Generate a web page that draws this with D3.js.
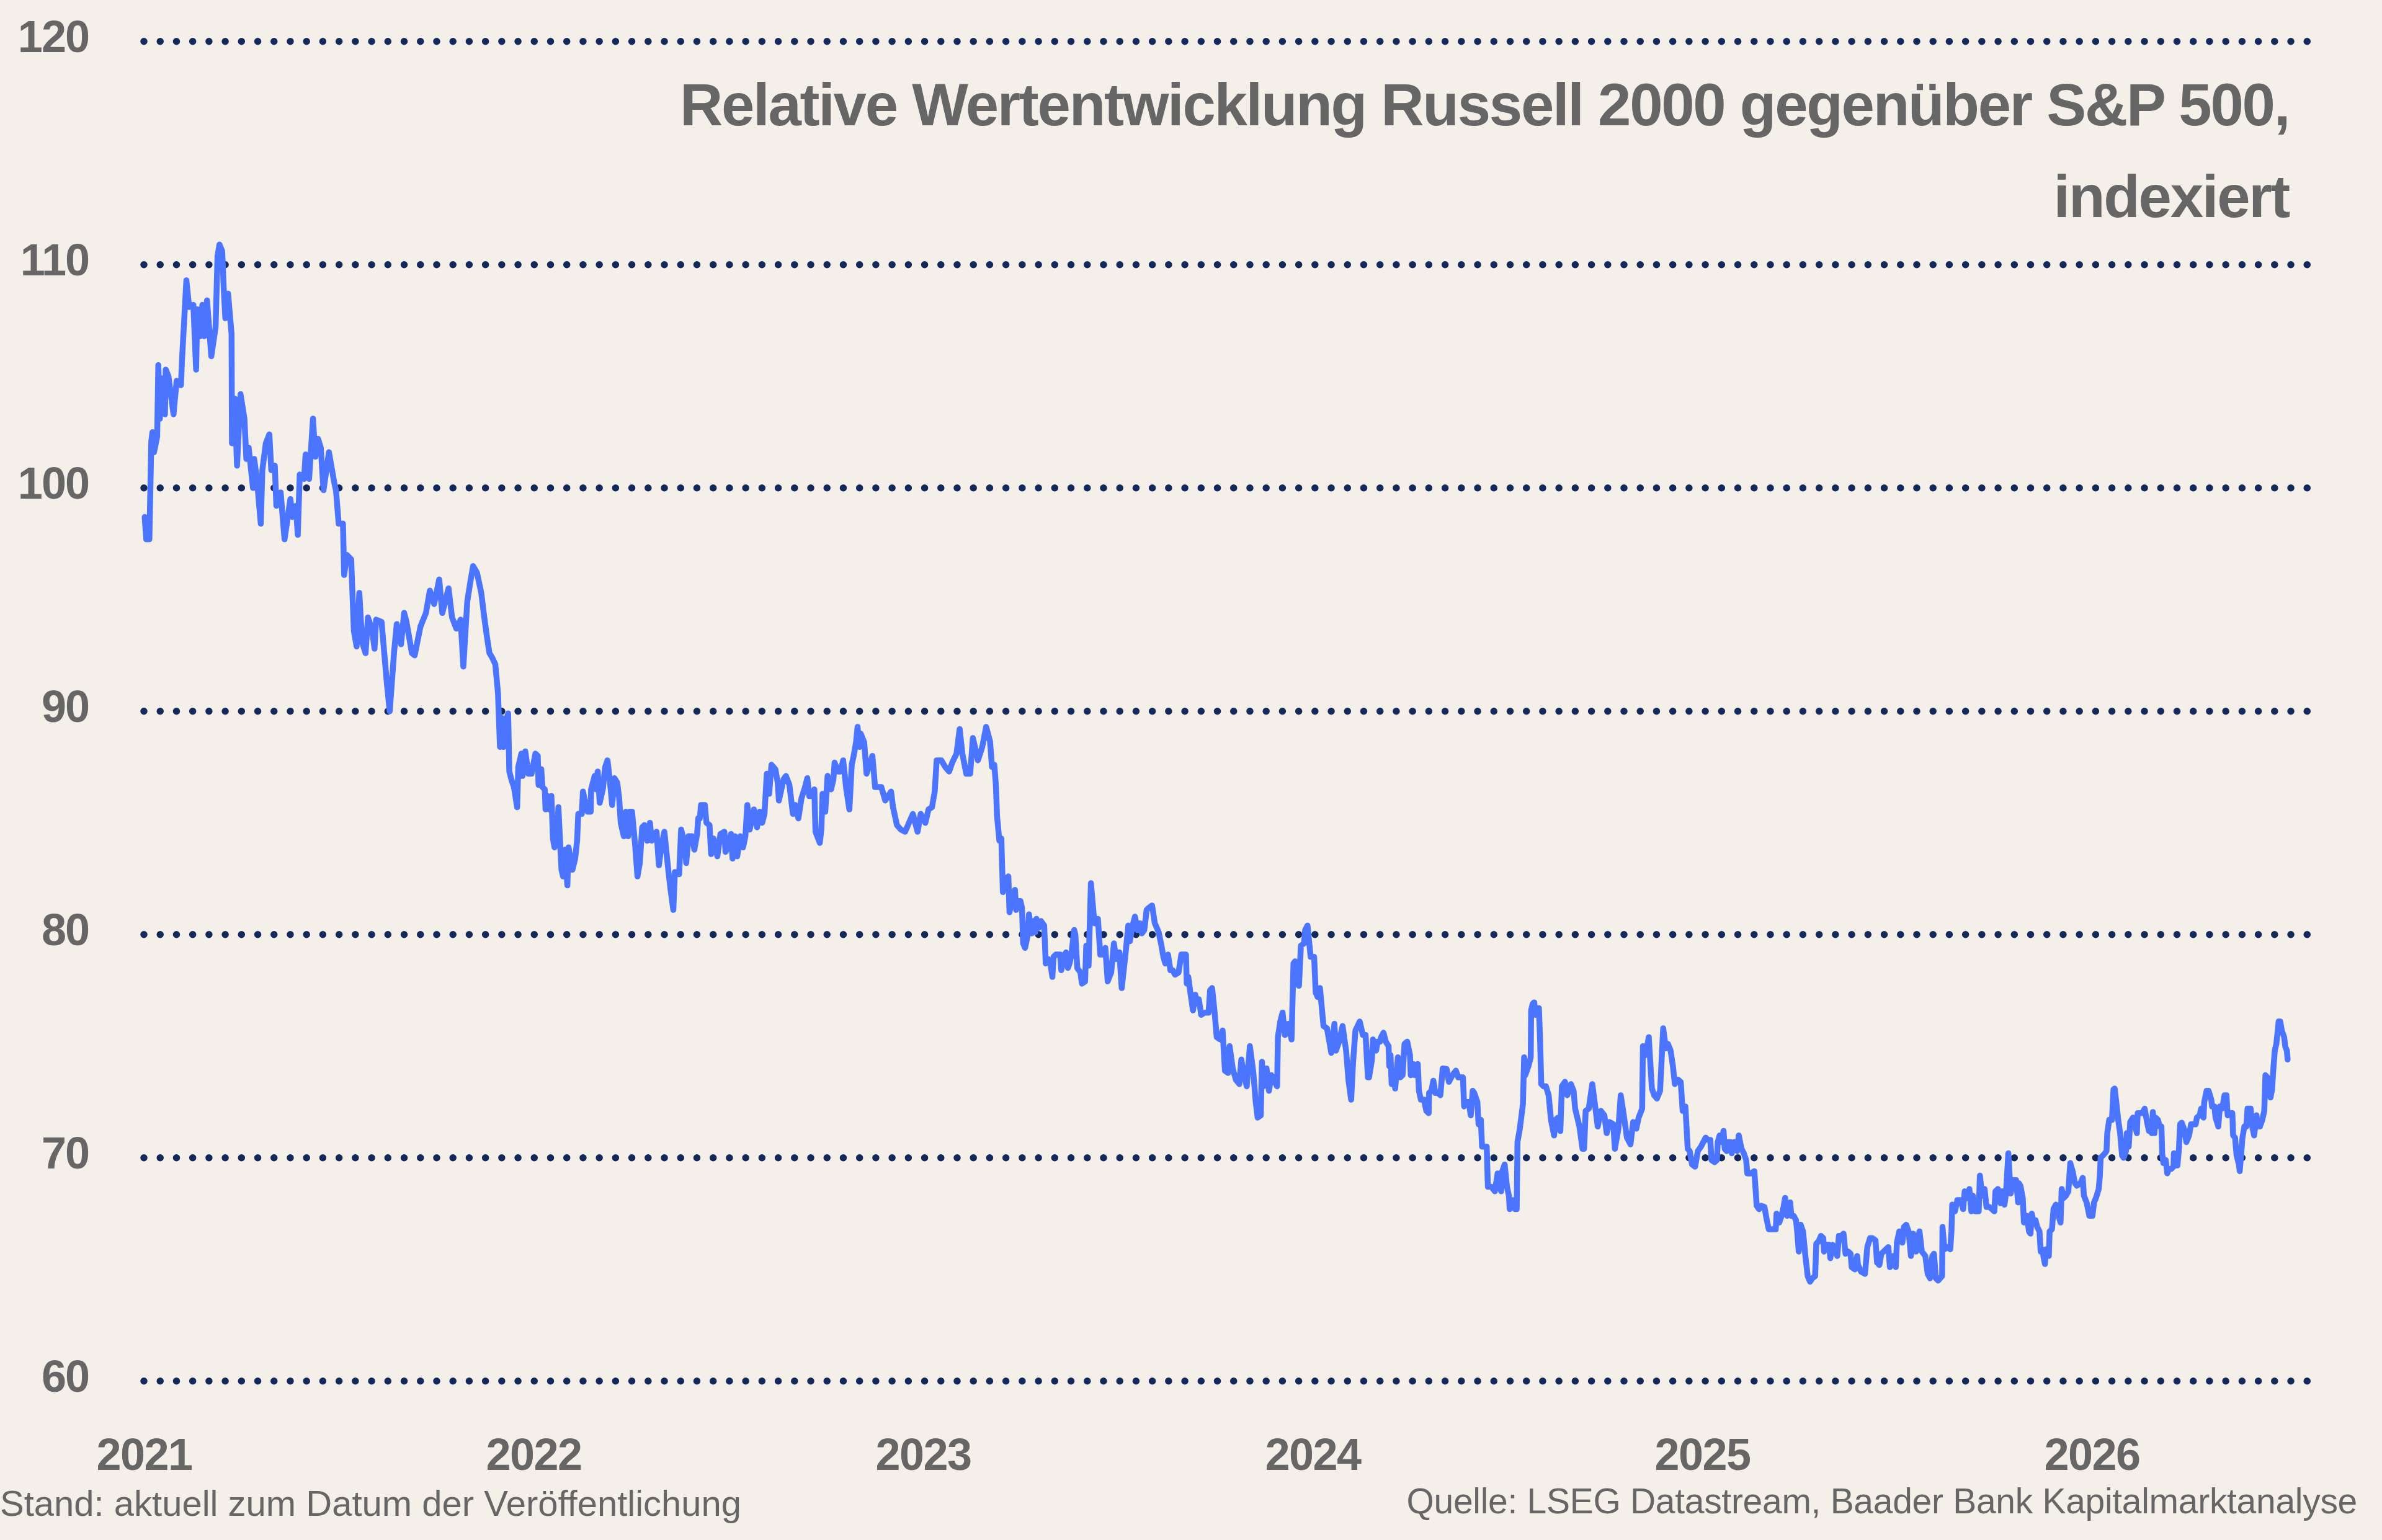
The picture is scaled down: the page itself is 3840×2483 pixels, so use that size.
<!DOCTYPE html>
<html>
<head>
<meta charset="utf-8">
<script src="https://cdn.jsdelivr.net/npm/d3@7"></script>
<style>
  html, body { margin: 0; padding: 0; background: #f5efe9; }
  svg { display: block; }
</style>
</head>
<body>
<svg id="chart"></svg>
<script>
var width = 3840
var height = 2483
var plotLeft = 232
var plotRight = 3719
var plotTop = 66.7
var plotBottom = 2226.7

// Russell 2000 relativ zum S&P 500, [Jahr als Dezimalzahl, Indexwert]
var series2021 = [[2021.002, 98.7], [2021.006, 97.7], [2021.014, 97.7], [2021.019, 102.1], [2021.022, 102.5], [2021.026, 101.6], [2021.034, 102.3], [2021.037, 105.5], [2021.041, 103.1], [2021.046, 104.9], [2021.054, 103.3], [2021.056, 105.3], [2021.063, 105.0], [2021.066, 104.6], [2021.076, 103.3], [2021.084, 104.8], [2021.095, 104.6], [2021.098, 105.8], [2021.109, 109.3], [2021.116, 108.1], [2021.127, 108.2], [2021.134, 105.3], [2021.137, 108.0], [2021.145, 106.8], [2021.150, 108.2], [2021.155, 106.8], [2021.162, 108.4], [2021.173, 105.9], [2021.184, 107.2], [2021.189, 110.4], [2021.194, 110.9], [2021.201, 110.6], [2021.205, 108.9], [2021.209, 107.6], [2021.216, 108.7], [2021.225, 106.9], [2021.226, 102.0], [2021.233, 104.0], [2021.239, 101.0], [2021.248, 104.2], [2021.258, 103.1], [2021.263, 101.3], [2021.269, 101.8], [2021.280, 100.0], [2021.283, 101.3], [2021.290, 100.4], [2021.300, 98.4], [2021.304, 100.8], [2021.313, 102.0], [2021.322, 102.4], [2021.327, 100.8], [2021.336, 101.0], [2021.340, 99.2], [2021.351, 99.8], [2021.361, 97.7], [2021.376, 99.5], [2021.381, 98.7], [2021.390, 99.2], [2021.395, 97.9], [2021.400, 100.6], [2021.411, 100.4], [2021.415, 101.5], [2021.424, 100.4], [2021.434, 103.1], [2021.440, 101.4], [2021.447, 102.2], [2021.454, 101.8], [2021.461, 99.9], [2021.475, 101.6], [2021.489, 100.2], [2021.493, 99.9], [2021.500, 98.4], [2021.511, 98.4], [2021.514, 96.1], [2021.521, 97.0], [2021.532, 96.8], [2021.539, 93.6], [2021.546, 92.9], [2021.553, 95.3], [2021.560, 93.1], [2021.569, 92.6], [2021.575, 94.2], [2021.585, 93.7], [2021.592, 92.8], [2021.596, 94.1], [2021.610, 94.0], [2021.624, 91.2], [2021.631, 90.0], [2021.642, 92.6], [2021.649, 93.9], [2021.660, 93.0], [2021.668, 94.4], [2021.674, 94.0], [2021.688, 92.6], [2021.695, 92.5], [2021.710, 93.8], [2021.724, 94.4], [2021.734, 95.4], [2021.745, 94.8], [2021.758, 95.9], [2021.766, 94.4], [2021.782, 95.5], [2021.791, 94.2], [2021.802, 93.7], [2021.813, 94.1], [2021.820, 92.0], [2021.830, 94.9], [2021.838, 95.8], [2021.845, 96.5], [2021.855, 96.2], [2021.866, 95.3], [2021.873, 94.3], [2021.880, 93.4], [2021.887, 92.6], [2021.894, 92.4], [2021.902, 92.1], [2021.909, 90.8], [2021.914, 88.4], [2021.918, 89.7], [2021.923, 88.4], [2021.928, 89.5], [2021.935, 89.9], [2021.938, 87.3], [2021.944, 86.9], [2021.950, 86.6], [2021.958, 85.7], [2021.961, 87.5], [2021.969, 88.1], [2021.972, 87.1], [2021.979, 88.2], [2021.987, 87.2], [2021.995, 87.2]]

var series2022 = [[2022.005, 88.1], [2022.011, 88.0], [2022.013, 86.7], [2022.020, 87.4], [2022.023, 86.6], [2022.029, 86.5], [2022.031, 85.6], [2022.036, 86.2], [2022.040, 85.6], [2022.046, 86.2], [2022.050, 84.3], [2022.054, 83.9], [2022.060, 84.1], [2022.064, 85.7], [2022.069, 83.9], [2022.072, 82.9], [2022.076, 82.6], [2022.081, 83.8], [2022.087, 82.2], [2022.090, 83.9], [2022.100, 82.9], [2022.107, 83.4], [2022.112, 84.2], [2022.115, 85.4], [2022.124, 85.4], [2022.127, 86.4], [2022.139, 85.5], [2022.147, 85.5], [2022.148, 86.5], [2022.157, 87.1], [2022.160, 86.5], [2022.165, 87.3], [2022.170, 85.9], [2022.178, 86.5], [2022.184, 87.5], [2022.190, 87.8], [2022.196, 86.9], [2022.202, 85.8], [2022.208, 87.0], [2022.215, 86.8], [2022.220, 86.1], [2022.224, 85.0], [2022.232, 84.4], [2022.237, 85.5], [2022.243, 84.4], [2022.247, 85.5], [2022.253, 85.5], [2022.261, 84.0], [2022.267, 82.6], [2022.273, 83.2], [2022.279, 84.8], [2022.285, 84.9], [2022.292, 84.2], [2022.299, 85.0], [2022.304, 84.2], [2022.310, 84.5], [2022.316, 84.6], [2022.322, 83.1], [2022.328, 83.9], [2022.336, 84.6], [2022.346, 82.9], [2022.352, 82.0], [2022.359, 81.1], [2022.363, 82.8], [2022.374, 82.7], [2022.379, 84.7], [2022.389, 84.0], [2022.392, 83.2], [2022.398, 84.4], [2022.407, 84.4], [2022.413, 83.8], [2022.420, 84.5], [2022.423, 85.2], [2022.427, 85.2], [2022.430, 85.8], [2022.440, 85.8], [2022.444, 85.0], [2022.452, 84.9], [2022.456, 83.6], [2022.462, 84.3], [2022.472, 83.5], [2022.480, 84.5], [2022.490, 84.6], [2022.493, 83.7], [2022.499, 83.9], [2022.507, 84.5], [2022.511, 83.4], [2022.517, 84.4], [2022.523, 83.5], [2022.531, 84.4], [2022.538, 83.9], [2022.544, 84.4], [2022.549, 85.8], [2022.555, 84.7], [2022.566, 85.6], [2022.574, 84.8], [2022.581, 85.5], [2022.587, 85.0], [2022.593, 85.4], [2022.599, 87.2], [2022.605, 86.3], [2022.611, 87.6], [2022.621, 87.4], [2022.627, 86.8], [2022.630, 86.0], [2022.642, 86.95], [2022.648, 87.1], [2022.657, 86.7], [2022.666, 85.4], [2022.672, 85.8], [2022.680, 85.2], [2022.688, 86.1], [2022.697, 86.6], [2022.703, 87.0], [2022.708, 86.2], [2022.715, 86.2], [2022.721, 86.5], [2022.724, 84.6], [2022.735, 84.1], [2022.739, 84.7], [2022.742, 86.3], [2022.749, 85.5], [2022.755, 87.1], [2022.764, 86.5], [2022.770, 86.95], [2022.773, 87.7], [2022.782, 87.3], [2022.788, 87.3], [2022.795, 87.8], [2022.803, 86.5], [2022.811, 85.6], [2022.817, 87.6], [2022.822, 88.0], [2022.828, 88.6], [2022.832, 89.3], [2022.837, 88.4], [2022.840, 89.0], [2022.849, 88.6], [2022.855, 87.2], [2022.870, 88.0], [2022.877, 86.6], [2022.893, 86.6], [2022.903, 86.0], [2022.918, 86.4], [2022.923, 85.7], [2022.933, 84.9], [2022.943, 84.7], [2022.954, 84.6], [2022.964, 85.0], [2022.974, 85.4], [2022.986, 84.6], [2022.994, 85.4]]

var series2023 = [[2023.006, 85.0], [2023.014, 85.6], [2023.023, 85.7], [2023.030, 86.4], [2023.035, 87.8], [2023.047, 87.8], [2023.057, 87.5], [2023.067, 87.3], [2023.075, 87.7], [2023.086, 88.1], [2023.094, 89.2], [2023.101, 88.1], [2023.111, 87.2], [2023.121, 87.2], [2023.128, 88.8], [2023.141, 87.8], [2023.152, 88.4], [2023.162, 89.3], [2023.172, 88.65], [2023.177, 87.5], [2023.183, 87.6], [2023.187, 86.7], [2023.190, 85.3], [2023.196, 84.2], [2023.201, 84.3], [2023.205, 81.9], [2023.213, 82.5], [2023.219, 82.6], [2023.222, 81.0], [2023.230, 81.7], [2023.236, 82.0], [2023.239, 81.1], [2023.245, 81.5], [2023.250, 81.5], [2023.254, 81.2], [2023.257, 79.6], [2023.262, 79.4], [2023.268, 79.9], [2023.272, 80.9], [2023.279, 80.05], [2023.283, 80.6], [2023.288, 80.1], [2023.291, 80.7], [2023.297, 80.3], [2023.303, 80.6], [2023.311, 80.4], [2023.315, 78.7], [2023.321, 78.9], [2023.327, 78.7], [2023.332, 78.1], [2023.335, 79.0], [2023.341, 79.1], [2023.352, 79.1], [2023.355, 78.4], [2023.361, 79.0], [2023.367, 79.2], [2023.372, 78.5], [2023.376, 78.7], [2023.380, 79.0], [2023.388, 80.2], [2023.391, 80.0], [2023.396, 78.5], [2023.404, 78.3], [2023.408, 77.8], [2023.416, 77.9], [2023.419, 79.5], [2023.425, 78.6], [2023.431, 82.3], [2023.440, 80.5], [2023.449, 80.7], [2023.455, 79.1], [2023.463, 79.1], [2023.468, 79.4], [2023.474, 77.9], [2023.483, 78.3], [2023.490, 79.6], [2023.496, 78.9], [2023.504, 79.2], [2023.510, 77.6], [2023.519, 79.0], [2023.527, 80.4], [2023.531, 79.7], [2023.538, 80.4], [2023.544, 80.8], [2023.550, 80.2], [2023.557, 80.5], [2023.562, 80.05], [2023.568, 80.2], [2023.574, 81.1], [2023.580, 81.2], [2023.588, 81.3], [2023.595, 80.5], [2023.605, 80.1], [2023.612, 79.5], [2023.617, 79.0], [2023.622, 78.7], [2023.629, 79.1], [2023.635, 78.4], [2023.641, 78.4], [2023.647, 78.2], [2023.656, 78.3], [2023.663, 79.1], [2023.669, 79.1], [2023.675, 79.1], [2023.677, 77.8], [2023.681, 78.1], [2023.687, 77.3], [2023.693, 76.6], [2023.699, 77.3], [2023.703, 76.9], [2023.708, 77.1], [2023.714, 76.4], [2023.723, 76.5], [2023.733, 76.5], [2023.737, 77.5], [2023.742, 77.6], [2023.748, 76.6], [2023.754, 75.4], [2023.763, 75.3], [2023.769, 75.7], [2023.775, 73.9], [2023.783, 73.8], [2023.787, 75.0], [2023.795, 74.0], [2023.803, 73.5], [2023.812, 73.3], [2023.817, 74.4], [2023.823, 73.8], [2023.831, 73.2], [2023.839, 75.0], [2023.848, 73.8], [2023.854, 72.5], [2023.859, 71.8], [2023.867, 71.9], [2023.870, 74.3], [2023.874, 73.2], [2023.882, 74.0], [2023.888, 73.0], [2023.894, 73.7], [2023.900, 73.5], [2023.909, 73.2], [2023.911, 75.4], [2023.917, 76.1], [2023.923, 76.5], [2023.929, 75.5], [2023.937, 76.0], [2023.946, 75.3], [2023.951, 78.7], [2023.955, 78.8], [2023.959, 77.8], [2023.965, 77.7], [2023.970, 79.5], [2023.978, 79.6], [2023.981, 80.2], [2023.987, 80.4], [2023.995, 79.0]]

var series2024 = [[2024.004, 79.0], [2024.008, 77.4], [2024.013, 77.2], [2024.019, 77.6], [2024.028, 75.9], [2024.037, 75.8], [2024.043, 75.2], [2024.048, 74.7], [2024.056, 76.0], [2024.060, 74.8], [2024.068, 75.2], [2024.077, 75.9], [2024.086, 74.8], [2024.092, 73.5], [2024.099, 72.6], [2024.104, 74.3], [2024.110, 75.7], [2024.121, 76.1], [2024.129, 75.5], [2024.136, 75.5], [2024.142, 73.6], [2024.145, 73.6], [2024.152, 74.35], [2024.155, 75.3], [2024.163, 74.8], [2024.167, 75.2], [2024.173, 75.2], [2024.176, 75.4], [2024.182, 75.6], [2024.188, 75.2], [2024.195, 75.0], [2024.197, 74.1], [2024.200, 74.6], [2024.203, 73.3], [2024.209, 73.8], [2024.212, 73.1], [2024.219, 74.5], [2024.225, 73.6], [2024.231, 73.7], [2024.236, 75.1], [2024.243, 75.2], [2024.250, 74.6], [2024.252, 73.7], [2024.258, 74.2], [2024.262, 73.7], [2024.270, 74.2], [2024.273, 73.0], [2024.278, 72.6], [2024.286, 72.6], [2024.292, 72.1], [2024.298, 72.0], [2024.299, 72.9], [2024.305, 73.0], [2024.310, 73.45], [2024.315, 72.9], [2024.322, 72.9], [2024.328, 72.8], [2024.334, 74.0], [2024.344, 73.98], [2024.350, 73.4], [2024.359, 73.7], [2024.368, 73.9], [2024.374, 73.6], [2024.380, 73.6], [2024.386, 73.6], [2024.389, 72.3], [2024.395, 72.5], [2024.401, 72.5], [2024.406, 71.9], [2024.411, 73.0], [2024.415, 72.9], [2024.423, 72.5], [2024.426, 71.5], [2024.432, 71.7], [2024.435, 70.5], [2024.443, 70.5], [2024.447, 70.5], [2024.450, 68.7], [2024.459, 68.7], [2024.468, 68.5], [2024.475, 69.3], [2024.478, 69.2], [2024.484, 68.5], [2024.487, 69.4], [2024.493, 69.7], [2024.499, 68.7], [2024.504, 68.3], [2024.506, 67.7], [2024.514, 68.1], [2024.520, 67.7], [2024.524, 67.7], [2024.526, 70.7], [2024.532, 71.3], [2024.540, 72.4], [2024.543, 74.5], [2024.546, 73.7], [2024.554, 74.1], [2024.560, 74.5], [2024.561, 76.6], [2024.565, 76.9], [2024.569, 76.96], [2024.572, 76.4], [2024.578, 76.7], [2024.581, 76.7], [2024.584, 75.3], [2024.587, 73.3], [2024.593, 73.2], [2024.599, 73.2], [2024.606, 72.8], [2024.612, 71.7], [2024.620, 71.0], [2024.624, 71.7], [2024.630, 71.8], [2024.636, 71.2], [2024.640, 73.2], [2024.648, 73.4], [2024.654, 72.8], [2024.663, 73.3], [2024.670, 73.0], [2024.674, 72.2], [2024.685, 71.4], [2024.693, 70.4], [2024.697, 70.4], [2024.701, 72.1], [2024.709, 72.2], [2024.718, 73.3], [2024.724, 72.5], [2024.732, 71.4], [2024.740, 72.1], [2024.749, 71.9], [2024.755, 71.1], [2024.762, 71.6], [2024.772, 71.5], [2024.776, 70.4], [2024.785, 71.3], [2024.791, 72.8], [2024.798, 72.0], [2024.807, 70.9], [2024.816, 70.6], [2024.823, 71.6], [2024.831, 71.3], [2024.837, 71.8], [2024.846, 72.2], [2024.848, 75.0], [2024.855, 74.6], [2024.863, 75.4], [2024.871, 73.1], [2024.877, 72.8], [2024.884, 72.65], [2024.892, 73.0], [2024.900, 75.8], [2024.907, 74.9], [2024.912, 75.1], [2024.919, 74.8], [2024.925, 74.1], [2024.930, 73.3], [2024.938, 73.5], [2024.945, 73.4], [2024.950, 72.1], [2024.957, 72.3], [2024.963, 70.4], [2024.968, 70.3], [2024.974, 69.7], [2024.982, 69.6], [2024.989, 70.3], [2024.997, 70.5]]

var series2025 = [[2025.009, 70.9], [2025.015, 70.8], [2025.021, 70.8], [2025.024, 69.9], [2025.032, 69.8], [2025.038, 69.9], [2025.040, 70.7], [2025.045, 71.0], [2025.049, 70.7], [2025.055, 71.2], [2025.058, 70.4], [2025.063, 70.3], [2025.067, 70.7], [2025.073, 70.7], [2025.076, 70.2], [2025.082, 70.7], [2025.090, 70.3], [2025.094, 71.0], [2025.101, 70.4], [2025.107, 70.2], [2025.113, 69.9], [2025.116, 69.3], [2025.125, 69.3], [2025.134, 69.4], [2025.140, 67.85], [2025.146, 67.7], [2025.152, 67.85], [2025.160, 67.8], [2025.165, 67.3], [2025.171, 66.8], [2025.177, 66.8], [2025.183, 66.8], [2025.189, 66.8], [2025.191, 67.5], [2025.198, 67.1], [2025.204, 67.4], [2025.209, 67.8], [2025.213, 68.2], [2025.218, 67.4], [2025.226, 68.0], [2025.229, 67.4], [2025.235, 67.4], [2025.241, 67.2], [2025.244, 66.7], [2025.248, 65.8], [2025.253, 67.0], [2025.259, 66.7], [2025.265, 65.6], [2025.271, 64.7], [2025.277, 64.45], [2025.283, 64.6], [2025.290, 64.7], [2025.293, 66.15], [2025.299, 66.25], [2025.305, 66.5], [2025.311, 66.4], [2025.313, 65.8], [2025.320, 66.1], [2025.326, 66.1], [2025.329, 65.5], [2025.335, 66.1], [2025.341, 65.9], [2025.347, 65.6], [2025.351, 66.5], [2025.357, 66.5], [2025.363, 66.6], [2025.368, 65.7], [2025.375, 65.8], [2025.381, 65.7], [2025.384, 65.1], [2025.392, 65.0], [2025.398, 65.6], [2025.400, 65.2], [2025.408, 64.9], [2025.418, 64.8], [2025.424, 66.0], [2025.431, 66.4], [2025.437, 66.4], [2025.445, 66.3], [2025.449, 65.3], [2025.455, 65.2], [2025.460, 65.7], [2025.466, 65.8], [2025.472, 65.9], [2025.478, 66.0], [2025.482, 65.1], [2025.486, 65.2], [2025.491, 65.6], [2025.497, 65.1], [2025.500, 66.2], [2025.506, 66.7], [2025.514, 66.2], [2025.518, 66.9], [2025.524, 67.0], [2025.530, 66.7], [2025.536, 65.6], [2025.542, 66.6], [2025.549, 65.8], [2025.558, 66.7], [2025.564, 65.8], [2025.573, 65.6], [2025.579, 64.8], [2025.585, 64.6], [2025.591, 65.6], [2025.595, 65.7], [2025.600, 64.6], [2025.606, 64.5], [2025.616, 64.7], [2025.617, 66.9], [2025.622, 65.9], [2025.631, 66.0], [2025.637, 65.9], [2025.640, 66.7], [2025.642, 67.9], [2025.649, 67.6], [2025.655, 68.1], [2025.664, 68.1], [2025.670, 67.7], [2025.674, 68.5], [2025.680, 68.2], [2025.686, 68.6], [2025.691, 67.6], [2025.695, 68.3], [2025.701, 67.6], [2025.710, 67.6], [2025.713, 69.2], [2025.719, 68.3], [2025.725, 68.6], [2025.730, 67.8], [2025.737, 67.8], [2025.744, 67.7], [2025.750, 67.6], [2025.753, 68.5], [2025.759, 68.6], [2025.766, 67.96], [2025.770, 68.5], [2025.776, 67.9], [2025.780, 68.4], [2025.786, 70.2], [2025.792, 68.4], [2025.798, 69.0], [2025.806, 69.0], [2025.811, 68.0], [2025.813, 68.86], [2025.817, 68.75], [2025.823, 68.2], [2025.826, 67.1], [2025.832, 67.1], [2025.834, 67.4], [2025.839, 66.7], [2025.843, 66.6], [2025.846, 67.5], [2025.850, 67.2], [2025.856, 67.2], [2025.860, 66.9], [2025.866, 66.7], [2025.869, 65.8], [2025.873, 65.9], [2025.877, 65.5], [2025.880, 65.24], [2025.883, 65.9], [2025.887, 65.6], [2025.890, 65.6], [2025.892, 66.7], [2025.898, 66.8], [2025.902, 67.7], [2025.908, 67.9], [2025.913, 67.5], [2025.920, 67.1], [2025.923, 68.6], [2025.928, 68.2], [2025.934, 68.3], [2025.940, 68.5], [2025.945, 69.76], [2025.951, 69.4], [2025.957, 68.86], [2025.962, 68.75], [2025.971, 68.86], [2025.977, 69.1], [2025.980, 68.3], [2025.987, 68.0], [2025.994, 67.4]]

var series2026 = [[2026.002, 67.4], [2026.006, 68.0], [2026.011, 68.2], [2026.018, 68.6], [2026.021, 69.2], [2026.023, 70.0], [2026.034, 70.2], [2026.038, 70.3], [2026.040, 71.1], [2026.045, 71.7], [2026.052, 71.7], [2026.056, 73.06], [2026.059, 73.1], [2026.065, 72.2], [2026.068, 71.7], [2026.073, 71.1], [2026.078, 70.1], [2026.082, 70.0], [2026.088, 70.3], [2026.090, 71.1], [2026.095, 70.5], [2026.099, 71.6], [2026.106, 71.8], [2026.110, 71.5], [2026.116, 71.1], [2026.118, 72.0], [2026.125, 72.0], [2026.130, 72.0], [2026.136, 72.2], [2026.142, 71.6], [2026.147, 71.2], [2026.150, 71.25], [2026.154, 71.1], [2026.157, 72.05], [2026.161, 71.1], [2026.164, 71.8], [2026.170, 71.7], [2026.175, 71.4], [2026.179, 71.4], [2026.181, 70.2], [2026.184, 69.76], [2026.190, 69.9], [2026.194, 69.3], [2026.198, 69.5], [2026.204, 69.5], [2026.210, 69.6], [2026.211, 70.2], [2026.216, 69.66], [2026.220, 69.66], [2026.224, 70.4], [2026.227, 71.5], [2026.231, 71.57], [2026.238, 71.25], [2026.243, 70.7], [2026.250, 71.0], [2026.255, 71.5], [2026.261, 71.5], [2026.267, 71.5], [2026.270, 71.8], [2026.277, 71.9], [2026.281, 72.2], [2026.287, 71.8], [2026.289, 72.5], [2026.295, 73.0], [2026.300, 73.0], [2026.307, 72.6], [2026.309, 72.3], [2026.315, 72.3], [2026.318, 71.8], [2026.325, 71.4], [2026.329, 72.3], [2026.335, 72.2], [2026.341, 72.8], [2026.346, 72.8], [2026.349, 71.9], [2026.355, 72.0], [2026.361, 72.0], [2026.363, 71.0], [2026.368, 70.9], [2026.372, 70.1], [2026.378, 69.7], [2026.380, 69.4], [2026.383, 70.0], [2026.387, 70.9], [2026.392, 71.4], [2026.397, 71.4], [2026.400, 72.2], [2026.408, 72.2], [2026.412, 71.4], [2026.417, 71.0], [2026.423, 71.9], [2026.426, 71.4], [2026.432, 71.4], [2026.438, 71.7], [2026.443, 72.1], [2026.446, 73.7], [2026.451, 73.6], [2026.456, 72.8], [2026.459, 72.7], [2026.463, 73.06], [2026.466, 73.9], [2026.470, 74.8], [2026.474, 75.1], [2026.480, 76.1], [2026.484, 76.1], [2026.488, 75.7], [2026.494, 75.4], [2026.497, 74.97], [2026.501, 74.8], [2026.503, 74.4]]

var yTicks = [60, 70, 80, 90, 100, 110, 120]
var xTicks = [2021, 2022, 2023, 2024, 2025, 2026]
var titleLines = ["Relative Wertentwicklung Russell 2000 gegenüber S&P 500,", "indexiert"]
var noteLeft = "Stand: aktuell zum Datum der Veröffentlichung"
var noteRight = "Quelle: LSEG Datastream, Baader Bank Kapitalmarktanalyse"

var textColor = "#666666"
var gridColor = "#13295b"
var lineColor = "#4c75ff"
var fontFamily = "'Liberation Sans', Arial, sans-serif"

var svg = d3.select("#chart")
    .attr("width", width)
    .attr("height", height)
    .attr("viewBox", "0 0 " + width + " " + height)

svg.append("rect")
    .attr("width", width)
    .attr("height", height)
    .attr("fill", "#f5efe9")

// Skalen
var xScale = d3.scaleLinear()
    .domain([2021, 2026])
    .range([plotLeft, 3372])

var yScale = d3.scaleLinear()
    .domain([60, 120])
    .range([plotBottom, plotTop])

// gepunktete Gitterlinien
svg.append("g")
    .attr("class", "grid")
    .selectAll("line")
    .data(yTicks)
    .enter()
    .append("line")
    .attr("x1", plotLeft)
    .attr("x2", plotRight + 0.5)
    .attr("y1", function (d) { return yScale(d) })
    .attr("y2", function (d) { return yScale(d) })
    .attr("stroke", gridColor)
    .attr("stroke-width", 11.5)
    .attr("stroke-linecap", "round")
    .attr("stroke-dasharray", "0 26.22")

// y-Achse (nur Beschriftung)
var yAxis = d3.axisLeft(yScale).tickValues(yTicks).tickSize(0).tickPadding(0)
var yAxisG = svg.append("g")
    .attr("class", "yAxis")
    .attr("transform", "translate(143,0)")
    .call(yAxis)
yAxisG.select(".domain").remove()
yAxisG.selectAll("text")
    .attr("dy", 16.5)
    .attr("fill", textColor)
    .style("font-family", fontFamily)
    .style("font-size", "72px")
    .style("font-weight", "bold")
    .style("letter-spacing", "-2px")

// x-Achse (Jahre)
var xAxis = d3.axisBottom(xScale).tickValues(xTicks).tickFormat(d3.format("d")).tickSize(0).tickPadding(0)
var xAxisG = svg.append("g")
    .attr("class", "xAxis")
    .attr("transform", "translate(0,2370)")
    .call(xAxis)
xAxisG.select(".domain").remove()
xAxisG.selectAll("text")
    .attr("y", 0)
    .attr("dy", 0)
    .attr("fill", textColor)
    .style("font-family", fontFamily)
    .style("font-size", "72px")
    .style("font-weight", "bold")
    .style("letter-spacing", "-1.5px")

// Linie
var allPoints = series2021.concat(series2022, series2023, series2024, series2025, series2026)
var line = d3.line()
    .x(function (d) { return xScale(d[0]) })
    .y(function (d) { return yScale(d[1]) })

svg.append("path")
    .datum(allPoints)
    .attr("class", "series")
    .attr("d", line)
    .attr("fill", "none")
    .attr("stroke", lineColor)
    .attr("stroke-width", 9.5)
    .attr("stroke-linejoin", "round")
    .attr("stroke-linecap", "round")

// Titel
svg.append("g")
    .attr("class", "title")
    .selectAll("text")
    .data(titleLines)
    .enter()
    .append("text")
    .attr("x", 3690)
    .attr("y", function (d, i) { return 202 + i * 148 })
    .attr("text-anchor", "end")
    .attr("fill", textColor)
    .style("font-family", fontFamily)
    .style("font-size", "96px")
    .style("font-weight", "bold")
    .style("letter-spacing", "-2.3px")
    .text(function (d) { return d })

// Fußnoten
svg.append("text")
    .attr("x", 0)
    .attr("y", 2444)
    .attr("fill", textColor)
    .style("font-family", fontFamily)
    .style("font-size", "58px")
    .text(noteLeft)

svg.append("text")
    .attr("x", 3800)
    .attr("y", 2440)
    .attr("text-anchor", "end")
    .attr("fill", textColor)
    .style("font-family", fontFamily)
    .style("font-size", "57px")
    .style("letter-spacing", "-0.3px")
    .text(noteRight)
</script>
</body>
</html>
